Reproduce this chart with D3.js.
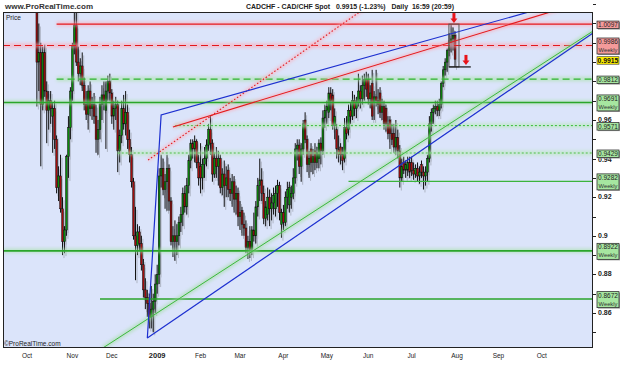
<!DOCTYPE html>
<html>
<head>
<meta charset="utf-8">
<script src="https://cdn.jsdelivr.net/npm/d3@7"></script>
<style>
body { margin: 0; background: #fff; }
svg { display: block; font-family: "Liberation Sans", Arial, sans-serif; }
</style>
</head>
<body>
<div id="chart"></div>
<script>
// daily CAD/CHF candles, one per weekday starting 1 Oct 2008
const firstDay = '2008-10-01'
const opens = [
  1.075, 1.065, 1.055, 1.050, 1.025, 1.028, 0.990, 0.995, 0.968, 0.995, 0.975, 0.965, 0.970, 0.962, 0.966, 0.950, 0.925, 0.931, 0.914, 0.897, 0.903, 0.941, 0.956,
  0.975, 0.998, 1.009, 0.990, 0.984, 0.988, 0.978, 0.968, 0.963, 0.975, 0.966, 0.968, 0.962, 0.950, 0.955, 0.968, 0.973, 0.965, 0.975, 0.980,
  0.974, 0.962, 0.966, 0.968, 0.944, 0.952, 0.966, 0.958, 0.964, 0.950, 0.942, 0.928, 0.900, 0.895, 0.902, 0.896, 0.885, 0.872, 0.868, 0.865, 0.858, 0.862, 0.866,
  0.875, 0.880, 0.931, 0.935, 0.924, 0.928, 0.935, 0.918, 0.897, 0.900, 0.897, 0.900, 0.907, 0.911, 0.922, 0.915, 0.926, 0.939, 0.948, 0.945, 0.949, 0.938,
  0.936, 0.930, 0.937, 0.940, 0.947, 0.955, 0.948, 0.932, 0.940, 0.936, 0.940, 0.925, 0.932, 0.926, 0.934, 0.924, 0.922, 0.928, 0.919, 0.922,
  0.910, 0.913, 0.906, 0.904, 0.894, 0.897, 0.893, 0.903, 0.900, 0.915, 0.926, 0.929, 0.922, 0.909, 0.911, 0.920, 0.914, 0.917, 0.914, 0.922, 0.926, 0.906,
  0.912, 0.907, 0.920, 0.916, 0.920, 0.922, 0.930, 0.945, 0.947, 0.936, 0.945, 0.960, 0.950, 0.937, 0.945, 0.938, 0.944, 0.938, 0.940, 0.948, 0.944, 0.961,
  0.965, 0.964, 0.974, 0.973, 0.957, 0.955, 0.945, 0.946, 0.942, 0.940, 0.956, 0.955, 0.965, 0.962, 0.970, 0.966, 0.969, 0.975, 0.971, 0.978, 0.981,
  0.981, 0.971, 0.979, 0.969, 0.972, 0.970, 0.974, 0.964, 0.967, 0.966, 0.958, 0.960, 0.953, 0.953, 0.946, 0.951, 0.944, 0.930, 0.938, 0.934, 0.934, 0.938,
  0.938, 0.934, 0.932, 0.935, 0.931, 0.937, 0.933, 0.931, 0.933, 0.940, 0.958, 0.964, 0.966, 0.967, 0.965, 0.968, 0.979, 0.986, 0.990, 0.996, 1.000, 1.002, 1.0038
]
const highs = [
  1.080, 1.070, 1.062, 1.052, 1.040, 1.034, 1.010, 1.000, 0.998, 0.999, 0.980, 0.975, 0.975, 0.969, 0.970, 0.952, 0.936, 0.942, 0.920, 0.905, 0.942, 0.962, 0.977,
  1.000, 1.030, 1.025, 0.998, 0.992, 0.995, 0.982, 0.975, 0.978, 0.980, 0.972, 0.974, 0.968, 0.960, 0.972, 0.978, 0.980, 0.980, 0.983, 0.984,
  0.976, 0.970, 0.972, 0.970, 0.955, 0.970, 0.973, 0.975, 0.968, 0.955, 0.946, 0.930, 0.915, 0.906, 0.905, 0.900, 0.888, 0.878, 0.872, 0.870, 0.874, 0.870, 0.880,
  0.885, 0.935, 0.942, 0.940, 0.932, 0.942, 0.937, 0.920, 0.905, 0.908, 0.906, 0.910, 0.915, 0.925, 0.926, 0.930, 0.942, 0.950, 0.950, 0.952, 0.950, 0.942,
  0.948, 0.940, 0.946, 0.950, 0.958, 0.9625, 0.950, 0.943, 0.946, 0.944, 0.942, 0.935, 0.939, 0.936, 0.937, 0.930, 0.932, 0.931, 0.926, 0.925,
  0.918, 0.915, 0.912, 0.908, 0.900, 0.905, 0.905, 0.912, 0.918, 0.930, 0.940, 0.935, 0.926, 0.918, 0.925, 0.924, 0.922, 0.925, 0.926, 0.929, 0.928, 0.914,
  0.916, 0.923, 0.928, 0.928, 0.926, 0.935, 0.948, 0.950, 0.950, 0.948, 0.960, 0.964, 0.952, 0.944, 0.948, 0.945, 0.948, 0.946, 0.950, 0.951, 0.965, 0.968,
  0.970, 0.977, 0.977, 0.976, 0.966, 0.958, 0.952, 0.948, 0.946, 0.961, 0.962, 0.968, 0.969, 0.975, 0.973, 0.972, 0.984, 0.978, 0.983, 0.984, 0.985,
  0.984, 0.978, 0.986, 0.975, 0.986, 0.976, 0.977, 0.971, 0.970, 0.968, 0.962, 0.962, 0.958, 0.958, 0.960, 0.955, 0.947, 0.940, 0.941, 0.939, 0.941, 0.941,
  0.941, 0.938, 0.937, 0.938, 0.936, 0.939, 0.936, 0.936, 0.942, 0.962, 0.966, 0.968, 0.970, 0.970, 0.971, 0.980, 0.988, 0.992, 0.997, 1.005, 1.0097, 1.008, 1.006
]
const lows = [
  1.062, 1.050, 1.045, 1.020, 1.018, 0.967, 0.975, 0.936, 0.965, 0.972, 0.948, 0.955, 0.958, 0.943, 0.945, 0.922, 0.918, 0.912, 0.890, 0.891, 0.900, 0.930, 0.950,
  0.970, 0.994, 0.988, 0.980, 0.978, 0.975, 0.965, 0.960, 0.955, 0.962, 0.960, 0.958, 0.943, 0.942, 0.950, 0.960, 0.965, 0.945, 0.970, 0.970,
  0.958, 0.955, 0.960, 0.933, 0.938, 0.948, 0.955, 0.952, 0.945, 0.938, 0.925, 0.898, 0.877, 0.890, 0.892, 0.882, 0.868, 0.862, 0.858, 0.852, 0.852, 0.850, 0.860,
  0.870, 0.875, 0.925, 0.921, 0.914, 0.913, 0.913, 0.895, 0.889, 0.887, 0.890, 0.895, 0.902, 0.905, 0.912, 0.911, 0.922, 0.935, 0.940, 0.938, 0.935, 0.926,
  0.922, 0.924, 0.930, 0.936, 0.944, 0.942, 0.928, 0.930, 0.930, 0.926, 0.922, 0.921, 0.915, 0.920, 0.920, 0.918, 0.915, 0.912, 0.911, 0.905,
  0.903, 0.900, 0.900, 0.891, 0.888, 0.8885, 0.890, 0.897, 0.896, 0.910, 0.918, 0.918, 0.906, 0.905, 0.908, 0.905, 0.908, 0.911, 0.910, 0.915, 0.908, 0.899,
  0.903, 0.905, 0.914, 0.912, 0.914, 0.919, 0.927, 0.939, 0.932, 0.928, 0.942, 0.948, 0.933, 0.930, 0.933, 0.932, 0.934, 0.935, 0.935, 0.937, 0.942, 0.956,
  0.958, 0.961, 0.965, 0.955, 0.950, 0.940, 0.938, 0.937, 0.934, 0.938, 0.950, 0.952, 0.958, 0.960, 0.962, 0.961, 0.967, 0.966, 0.968, 0.970, 0.972,
  0.968, 0.966, 0.960, 0.960, 0.967, 0.963, 0.961, 0.960, 0.955, 0.954, 0.950, 0.945, 0.947, 0.943, 0.942, 0.940, 0.925, 0.928, 0.932, 0.930, 0.931, 0.930,
  0.931, 0.929, 0.930, 0.928, 0.927, 0.930, 0.924, 0.926, 0.928, 0.938, 0.954, 0.958, 0.963, 0.962, 0.962, 0.966, 0.977, 0.983, 0.985, 0.993, 0.995, 0.996, 0.9875
]
const closes = [
  1.065, 1.055, 1.050, 1.025, 1.030, 0.990, 0.995, 0.968, 0.995, 0.975, 0.965, 0.970, 0.966, 0.966, 0.950, 0.925, 0.931, 0.914, 0.897, 0.903, 0.941, 0.956, 0.975,
  0.998, 1.009, 0.990, 0.984, 0.988, 0.978, 0.968, 0.963, 0.975, 0.966, 0.968, 0.962, 0.950, 0.955, 0.968, 0.973, 0.970, 0.975, 0.980, 0.974,
  0.962, 0.966, 0.968, 0.944, 0.952, 0.966, 0.958, 0.964, 0.950, 0.942, 0.928, 0.900, 0.895, 0.902, 0.896, 0.885, 0.872, 0.868, 0.865, 0.858, 0.862, 0.866, 0.875,
  0.880, 0.931, 0.935, 0.924, 0.928, 0.935, 0.918, 0.897, 0.900, 0.897, 0.900, 0.907, 0.911, 0.922, 0.915, 0.926, 0.939, 0.948, 0.945, 0.949, 0.938, 0.930,
  0.930, 0.937, 0.940, 0.947, 0.955, 0.948, 0.932, 0.940, 0.936, 0.940, 0.925, 0.932, 0.926, 0.930, 0.924, 0.922, 0.928, 0.919, 0.922, 0.910,
  0.912, 0.906, 0.904, 0.894, 0.897, 0.893, 0.903, 0.900, 0.915, 0.926, 0.929, 0.922, 0.909, 0.915, 0.920, 0.914, 0.917, 0.921, 0.922, 0.926, 0.912, 0.912,
  0.907, 0.920, 0.924, 0.925, 0.922, 0.930, 0.945, 0.947, 0.936, 0.945, 0.958, 0.950, 0.937, 0.940, 0.938, 0.941, 0.938, 0.943, 0.948, 0.944, 0.961, 0.965,
  0.967, 0.974, 0.970, 0.957, 0.962, 0.945, 0.942, 0.942, 0.939, 0.956, 0.953, 0.965, 0.962, 0.970, 0.966, 0.969, 0.975, 0.971, 0.978, 0.981, 0.976,
  0.971, 0.974, 0.962, 0.972, 0.970, 0.968, 0.964, 0.967, 0.958, 0.958, 0.953, 0.953, 0.950, 0.946, 0.951, 0.944, 0.930, 0.936, 0.934, 0.937, 0.938, 0.933,
  0.934, 0.932, 0.935, 0.931, 0.933, 0.933, 0.931, 0.933, 0.940, 0.958, 0.964, 0.966, 0.967, 0.965, 0.968, 0.979, 0.986, 0.990, 0.996, 1.001, 1.002, 1.0038, 0.9915
]

// x axis month labels
const tickMonths = ['2008-10', '2008-11', '2008-12', '2009-01', '2009-02', '2009-03', '2009-04', '2009-05', '2009-06', '2009-07', '2009-08', '2009-09', '2009-10']
const tickLabels = ['Oct', 'Nov', 'Dec', '2009', 'Feb', 'Mar', 'Apr', 'May', 'Jun', 'Jul', 'Aug', 'Sep', 'Oct']
const priceTicks = [0.86, 0.88, 0.9, 0.92, 0.94, 0.96]

// horizontal support / resistance levels
const levelValues = [1.0097, 0.9986, 0.9812, 0.9691, 0.9571, 0.9429, 0.9282, 0.8922, 0.8672]
const levelNotes = ['', 'Weekly', '', 'Weekly', '', '', 'Weekly', 'Weekly', 'Weekly']
const levelFrom = ['2008-10-22', null, '2008-10-22', null, '2009-01-14', '2008-12-04', '2009-05-18', null, '2008-11-21']
const lastPrice = 0.9915

// trend lines as [day number, price]
const blueUpper = [[61, 0.847], [68, 0.9626], [287, 1.0253]]
const blueLower = [[61, 0.847], [287, 1.0051]]
const greenTrend = [[38.5, 0.8419], [287, 1.0061]]
const redTrend = [[74, 0.9564], [287, 1.0227]]
const redDotted = [[61.4, 0.9393], [172, 1.0184]]

// box round the last week
const boxDays = [213.9, 219]
const boxPrices = [0.9875, 1.0097]
const boxLineEnd = 225

// ------------------------------------------------------------------
const W = 625, H = 375
const plot = { left: 3, top: 12, right: 593, bottom: 348 }

const parseDay = d3.timeParse('%Y-%m-%d')
const parseMonth = d3.timeParse('%Y-%m')
let days = []
for (let d = parseDay(firstDay); days.length < 300; d = d3.timeDay.offset(d, 1)) {
    if (d.getDay() != 0 && d.getDay() != 6) days.push(d)
}
const dayIndex = function (date) { return days.findIndex(d => d >= date) }

let x = d3.scaleLinear().domain([0, 218]).range([27, 457])
let y = d3.scaleLinear().domain([0.86, 0.96]).range([313, 120])

let svg = d3.select('#chart').append('svg')
    .attr('xmlns', 'http://www.w3.org/2000/svg')
    .attr('width', W).attr('height', H)

let defs = svg.append('defs')
defs.append('clipPath').attr('id', 'clip')
    .append('rect')
    .attr('x', plot.left).attr('y', plot.top)
    .attr('width', plot.right - plot.left).attr('height', plot.bottom - plot.top)
defs.append('filter').attr('id', 'blur')
    .attr('filterUnits', 'userSpaceOnUse')
    .attr('x', 0).attr('y', 0).attr('width', W).attr('height', H)
    .append('feGaussianBlur').attr('stdDeviation', 1.6)

svg.append('rect')
    .attr('x', plot.left).attr('y', plot.top)
    .attr('width', plot.right - plot.left).attr('height', plot.bottom - plot.top)
    .attr('fill', '#dbe4fa')

let g = svg.append('g').attr('clip-path', 'url(#clip)')

// candles: grey drop shadow first, then the candle itself
let candles = d3.range(opens.length).map(i => ({ i: i, o: opens[i], h: highs[i], l: lows[i], c: closes[i] }))

let shadow = g.append('g').attr('transform', 'translate(1.5,3)').attr('opacity', 0.55)
shadow.selectAll('line').data(candles).join('line')
    .attr('x1', d => x(d.i)).attr('x2', d => x(d.i))
    .attr('y1', d => y(d.h)).attr('y2', d => y(d.l))
    .attr('stroke', '#8a8f99').attr('stroke-width', 1)
shadow.selectAll('rect').data(candles).join('rect')
    .attr('x', d => x(d.i) - 0.9).attr('width', 1.8)
    .attr('y', d => y(Math.max(d.o, d.c)))
    .attr('height', d => Math.max(0.8, Math.abs(y(d.o) - y(d.c))))
    .attr('fill', '#9aa0aa')

let cg = g.append('g')
cg.selectAll('line').data(candles).join('line')
    .attr('x1', d => x(d.i)).attr('x2', d => x(d.i))
    .attr('y1', d => y(d.h)).attr('y2', d => y(d.l))
    .attr('stroke', '#111').attr('stroke-width', 1)
cg.selectAll('rect').data(candles).join('rect')
    .attr('x', d => x(d.i) - 0.9).attr('width', 1.8)
    .attr('y', d => y(Math.max(d.o, d.c)))
    .attr('height', d => Math.max(0.8, Math.abs(y(d.o) - y(d.c))))
    .attr('fill', d => d.c >= d.o ? '#0a8a0a' : '#a00d0d')
    .attr('stroke', '#111').attr('stroke-width', 0.5)

// level lines
const levelStyle = [
    { c: '#e3191c', w: 1.1, dash: null, glow: '#ffa6b4' },
    { c: '#e3191c', w: 1.1, dash: '7,4', glow: '#ffa6b4' },
    { c: '#2db52d', w: 1.1, dash: '7,4', glow: '#a8e2a8' },
    { c: '#2aa52a', w: 1.6, dash: null, glow: '#a8e2a8' },
    { c: '#37bd37', w: 1, dash: '2,2', glow: '#b6e8b6' },
    { c: '#78cc78', w: 1.5, dash: '2,2', glow: '#b6e8b6' },
    { c: '#3cb43c', w: 1.2, dash: null, glow: null },
    { c: '#2aa52a', w: 1.6, dash: null, glow: '#a8e2a8' },
    { c: '#2aa52a', w: 1.5, dash: null, glow: null }
]
let levels = levelValues.map((v, k) => ({
    v: v, k: k,
    x0: levelFrom[k] ? x(dayIndex(parseDay(levelFrom[k]))) : plot.left
}))

g.append('g').attr('filter', 'url(#blur)').attr('opacity', 0.55).selectAll('line')
    .data(levels.filter(d => levelStyle[d.k].glow)).join('line')
    .attr('x1', d => d.x0).attr('x2', plot.right)
    .attr('y1', d => y(d.v)).attr('y2', d => y(d.v))
    .attr('stroke', d => levelStyle[d.k].glow).attr('stroke-width', 5)

g.append('g').selectAll('line').data(levels).join('line')
    .attr('x1', d => d.x0).attr('x2', plot.right)
    .attr('y1', d => y(d.v)).attr('y2', d => y(d.v))
    .attr('stroke', d => levelStyle[d.k].c)
    .attr('stroke-width', d => levelStyle[d.k].w)
    .attr('stroke-dasharray', d => levelStyle[d.k].dash)

// trend lines
let line = d3.line().x(d => x(d[0])).y(d => y(d[1]))
let glowG = g.append('g').attr('filter', 'url(#blur)').attr('opacity', 0.5)
glowG.append('path').attr('d', line(greenTrend)).attr('fill', 'none').attr('stroke', '#a0dca0').attr('stroke-width', 5)
glowG.append('path').attr('d', line(redTrend)).attr('fill', 'none').attr('stroke', '#ffa0ac').attr('stroke-width', 4)
glowG.append('path').attr('d', line(redDotted)).attr('fill', 'none').attr('stroke', '#ffa8b4').attr('stroke-width', 4)

g.append('path').attr('d', line(greenTrend)).attr('fill', 'none').attr('stroke', '#3cb83c').attr('stroke-width', 1)
g.append('path').attr('d', line(redTrend)).attr('fill', 'none').attr('stroke', '#e3191c').attr('stroke-width', 1.1)
g.append('path').attr('d', line(redDotted)).attr('fill', 'none').attr('stroke', '#e3191c').attr('stroke-width', 1.1).attr('stroke-dasharray', '1.5,2')
g.append('path').attr('d', line(blueLower)).attr('fill', 'none').attr('stroke', '#1c2fd0').attr('stroke-width', 1.2)
g.append('path').attr('d', line(blueUpper)).attr('fill', 'none').attr('stroke', '#1c2fd0').attr('stroke-width', 1.2)

// box round the last days, plus the line under it
g.append('rect')
    .attr('x', x(boxDays[0])).attr('y', y(boxPrices[1]))
    .attr('width', x(boxDays[1]) - x(boxDays[0]))
    .attr('height', y(boxPrices[0]) - y(boxPrices[1]))
    .attr('fill', 'none').attr('stroke', '#555').attr('stroke-width', 1)
g.append('line')
    .attr('x1', x(boxDays[0])).attr('x2', x(boxLineEnd))
    .attr('y1', y(boxPrices[0])).attr('y2', y(boxPrices[0]))
    .attr('stroke', '#111').attr('stroke-width', 1.2)

// red arrows pointing down
function arrow(cx, tipY) {
    g.append('rect').attr('x', cx - 1.5).attr('y', tipY - 10).attr('width', 3).attr('height', 6).attr('fill', '#e8141a')
    g.append('path').attr('d', `M${cx - 3.5},${tipY - 4.5}L${cx + 3.5},${tipY - 4.5}L${cx},${tipY}Z`).attr('fill', '#e8141a')
}
arrow((x(boxDays[0]) + x(boxDays[1])) / 2, y(boxPrices[1]) - 1)
arrow(x(boxDays[1]) + 7, y(boxPrices[0]) - 2)

// frame
svg.append('rect')
    .attr('x', plot.left + 0.5).attr('y', plot.top + 0.5)
    .attr('width', plot.right - plot.left - 1).attr('height', plot.bottom - plot.top - 1)
    .attr('fill', 'none').attr('stroke', '#222').attr('stroke-width', 1)

// price axis on the right
let yAxis = svg.append('g')
let minor = d3.range(0.85, 1.02, 0.01)
yAxis.selectAll('line.minor').data(minor).join('line').attr('class', 'minor')
    .attr('x1', plot.right).attr('x2', plot.right + 3)
    .attr('y1', d => Math.round(y(d)) + 0.5).attr('y2', d => Math.round(y(d)) + 0.5)
    .attr('stroke', '#222')
yAxis.selectAll('text').data(priceTicks).join('text')
    .attr('x', plot.right + 5).attr('y', d => y(d) + (d == 0.94 ? 3.5 : 2))
    .attr('font-size', 7).attr('font-weight', 'bold').attr('fill', '#222')
    .text(d => String(+d.toFixed(2)))

// level tags
const tagFill = ['#f59a9a', '#f59a9a', '#a6e6a0', '#a6e6a0', '#a6e6a0', '#a6e6a0', '#a6e6a0', '#a6e6a0', '#a6e6a0']
let tags = svg.append('g')
levels.forEach(d => {
    let two = levelNotes[d.k] != ''
    let h = two ? 16 : 7.5
    let top = two ? y(d.v) - 7.5 : y(d.v) - 3
    tags.append('rect').attr('x', 598).attr('y', top + 1).attr('width', 22).attr('height', h).attr('fill', '#9a9a9a')
    tags.append('rect').attr('x', 597).attr('y', top).attr('width', 22).attr('height', h)
        .attr('fill', tagFill[d.k]).attr('stroke', '#333').attr('stroke-width', 0.8)
    tags.append('text').attr('x', 608).attr('y', top + 6).attr('text-anchor', 'middle')
        .attr('font-size', 6.5).attr('fill', '#222').text(d.v.toFixed(4))
    if (two) tags.append('text').attr('x', 608).attr('y', top + 14).attr('text-anchor', 'middle')
        .attr('font-size', 5.8).attr('fill', '#333').text(levelNotes[d.k])
})
let py = y(lastPrice) - 2.5
tags.append('rect').attr('x', 597).attr('y', py).attr('width', 22).attr('height', 7.5)
    .attr('fill', '#ffef00').attr('stroke', '#333').attr('stroke-width', 0.6)
tags.append('text').attr('x', 608).attr('y', py + 6).attr('text-anchor', 'middle')
    .attr('font-size', 6.8).attr('font-weight', 'bold').attr('fill', '#111').text(lastPrice.toFixed(4))

// month axis
let months = tickMonths.map((m, k) => ({ i: dayIndex(parseMonth(m)), label: tickLabels[k] }))
svg.append('g').selectAll('text').data(months).join('text')
    .attr('x', d => x(d.i)).attr('y', 358).attr('text-anchor', 'middle')
    .attr('font-size', d => d.label == '2009' ? 7.5 : 6.5)
    .attr('font-weight', d => d.label == '2009' ? 'bold' : 'normal')
    .attr('fill', '#222')
    .text(d => d.label)

// texts
svg.append('text').attr('x', 5).attr('y', 9).attr('font-size', 8).attr('font-weight', 'bold').attr('fill', '#333')
    .text('www.ProRealTime.com')
svg.append('text').attr('x', 246).attr('y', 9).attr('font-size', 8).attr('font-weight', 'bold').attr('fill', '#222')
    .attr('textLength', 208).attr('lengthAdjust', 'spacingAndGlyphs')
    .attr('xml:space', 'preserve')
    .text('CADCHF - CAD/CHF Spot   0.9915 (-1.23%)   Daily  16:59 (20:59)')
svg.append('text').attr('x', 6).attr('y', 20).attr('font-size', 6.5).attr('fill', '#222').text('Price')
svg.append('text').attr('x', 4).attr('y', 346).attr('font-size', 6.5).attr('fill', '#222').text('©ProRealTime.com')
</script>
</body>
</html>
